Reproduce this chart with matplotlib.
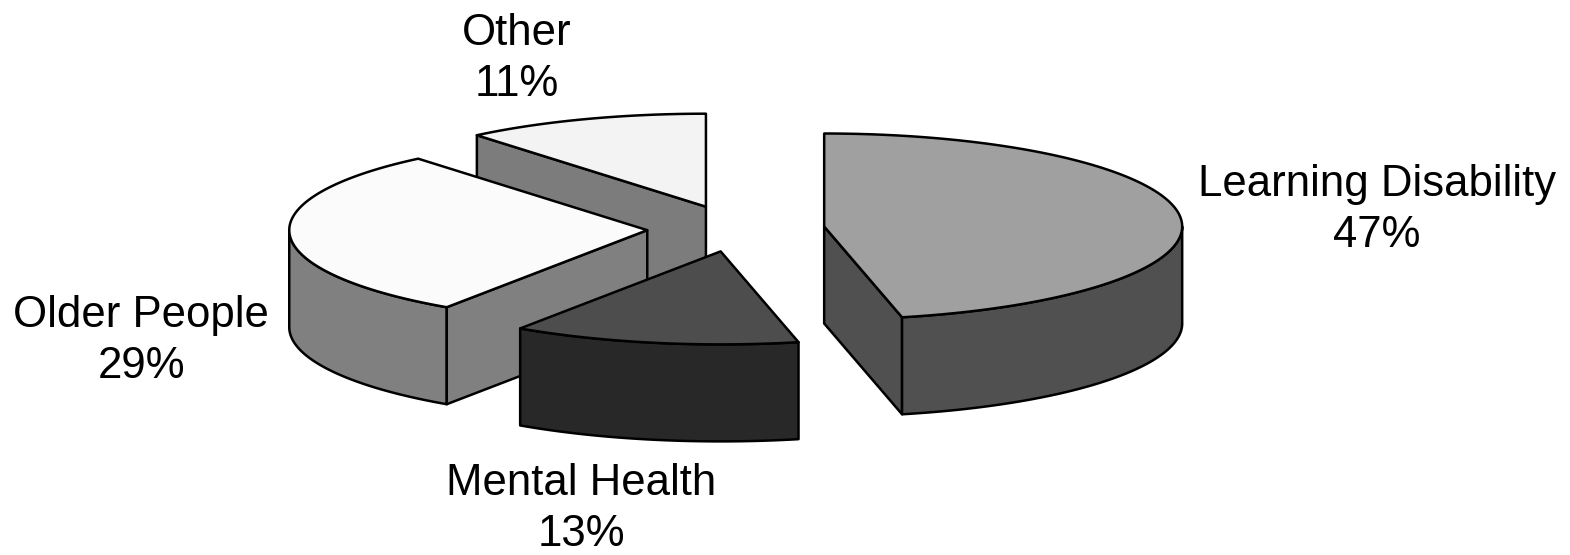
import numpy as np
import matplotlib
matplotlib.use("Agg")
import matplotlib.pyplot as plt
from matplotlib.patches import Polygon

categories = ["Learning Disability", "Mental Health", "Older People", "Other"]
shares = [46.51, 12.95, 29.49, 11.05]
explode = [0.245, 0.245, 0.251, 0.255]
top_colors = ["#a0a0a0", "#4d4d4d", "#fbfbfb", "#f3f3f3"]
side_colors = ["#505050", "#282828", "#808080", "#7c7c7c"]

CX, CY, RX, RY, DEPTH = 737, 229, 358, 93, 97
LW = 1.8

fig = plt.figure(figsize=(15.7, 5.55), dpi=100)
ax = fig.add_axes([0, 0, 1, 1])
ax.set_xlim(0, 1570)
ax.set_ylim(555, 0)
ax.axis("off")

cum = np.concatenate([[0], np.cumsum(shares)]) / np.sum(shares) * 2 * np.pi
geo = []
for a0, a1, e in zip(cum[:-1], cum[1:], explode):
    m = (a0 + a1) / 2
    geo.append((CX + e * RX * np.sin(m), CY - e * RY * np.cos(m), a0, a1))


def rim(apex, t):
    t = np.asarray(t)
    return np.column_stack([apex[0] + RX * np.sin(t), apex[1] - RY * np.cos(t)])


def add(pts, color, z):
    ax.add_patch(Polygon(pts, closed=True, fc=color, ec="black", lw=LW, joinstyle="round", zorder=z))


def top(i, z):
    x, y, a0, a1 = geo[i]
    t = np.linspace(a0, a1, 200)
    add(np.vstack([[x, y], rim((x, y), t)]), top_colors[i], z)


def wall(i, angle, z):
    x, y = geo[i][:2]
    p = rim((x, y), [angle])[0]
    add([(x, y), p, (p[0], p[1] + DEPTH), (x, y + DEPTH)], side_colors[i], z)


def outer(i, t0, t1, z):
    x, y = geo[i][:2]
    t = np.linspace(t0, t1, 200)
    r = rim((x, y), t)
    add(np.vstack([r, (r + [0, DEPTH])[::-1]]), side_colors[i], z)


# back to front
wall(3, geo[3][2], 1)
top(3, 2)
outer(2, geo[2][2], 1.5 * np.pi, 3)
wall(2, geo[2][2], 4)
top(2, 5)
outer(1, geo[1][2], geo[1][3], 6)
top(1, 7)
wall(0, geo[0][3], 8)
outer(0, 0.5 * np.pi, geo[0][3], 9)
top(0, 10)

label_pos = [(1377, 210), (581, 509), (141, 341), (517, 59)]
for name, s, (lx, ly) in zip(categories, shares, label_pos):
    ax.text(lx, ly, f"{name}\n{round(s)}%", ha="center", va="center", ma="center",
            family="Liberation Sans", fontsize=31.5, linespacing=1.33, color="black")

fig.savefig("out.png", dpi=100)
